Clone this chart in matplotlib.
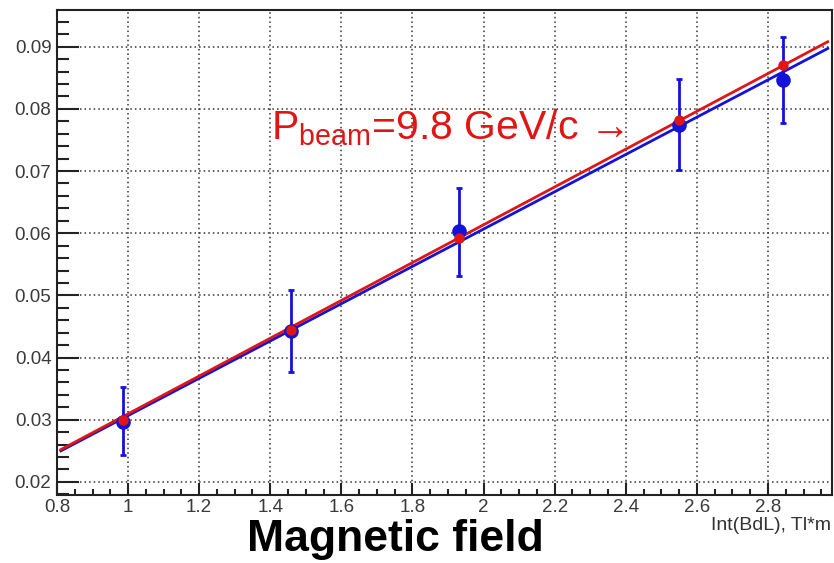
import matplotlib
matplotlib.use("Agg")
import matplotlib.pyplot as plt
import numpy as np
from matplotlib.ticker import MultipleLocator

plt.rcParams['font.family'] = ['Liberation Sans', 'DejaVu Sans']
plt.rcParams['mathtext.fontset'] = 'custom'
plt.rcParams['mathtext.rm'] = 'Liberation Sans'

# data
field = [0.986, 1.458, 1.930, 2.549, 2.842]
meas = [0.0297, 0.0443, 0.0603, 0.0774, 0.0847]
meas_err_lo = [0.0054, 0.0066, 0.0072, 0.0072, 0.0069]
meas_err_hi = [0.0056, 0.0065, 0.0070, 0.0074, 0.0069]
calc = [0.0300, 0.0444, 0.0592, 0.0782, 0.0871]
fit_range = [0.811, 2.968]
fit_calc = [0.03041, 0.00054]   # slope, intercept (red)
fit_meas = [0.03000, 0.00067]   # slope, intercept (blue)

xticks = [0.8, 1.0, 1.2, 1.4, 1.6, 1.8, 2.0, 2.2, 2.4, 2.6, 2.8]
xticklabels = ['0.8', '1', '1.2', '1.4', '1.6', '1.8', '2', '2.2', '2.4', '2.6', '2.8']
yticks = [0.02, 0.03, 0.04, 0.05, 0.06, 0.07, 0.08, 0.09]
yticklabels = ['0.02', '0.03', '0.04', '0.05', '0.06', '0.07', '0.08', '0.09']

BLUE = '#1212d8'
RED = '#e01515'

fig = plt.figure(figsize=(8.34, 5.63), dpi=100)
ax = fig.add_axes([0.0683, 0.1208, 0.9293, 0.8614])
ax.set_xlim(0.8, 2.98)
ax.set_ylim(0.0179, 0.0959)

xf = np.array(fit_range)
ax.plot(xf, fit_meas[0] * xf + fit_meas[1], color=BLUE, lw=2, zorder=3)
ax.plot(xf, fit_calc[0] * xf + fit_calc[1], color=RED, lw=2, zorder=4)

ax.errorbar(field, meas, yerr=[meas_err_lo, meas_err_hi], fmt='o', color=BLUE,
            ms=9.5, elinewidth=2, capsize=2.5, capthick=2, zorder=5)
ax.plot(field, calc, 'o', color=RED, ms=6.5, zorder=6)

ax.set_xticks(xticks)
ax.set_xticklabels(xticklabels)
ax.set_yticks(yticks)
ax.set_yticklabels(yticklabels)
ax.xaxis.set_minor_locator(MultipleLocator(0.05))
ax.yaxis.set_minor_locator(MultipleLocator(0.002))
ax.tick_params(axis='both', which='both', direction='in', colors='#222222',
               labelcolor='#3a3a3a', top=False, right=False)
ax.tick_params(axis='y', which='major', length=16, width=1.5, labelsize=13.5, pad=4)
ax.tick_params(axis='y', which='minor', length=8.5, width=1.5)
ax.tick_params(axis='x', which='major', length=9, width=1.5, labelsize=13.5, pad=3)
ax.tick_params(axis='x', which='minor', length=4.5, width=1.5)
for s in ax.spines.values():
    s.set_linewidth(1.5)
    s.set_color('#222222')

ax.grid(True, which='major', color='#333333', linestyle=(0, (1, 2)), lw=1.1)

ax.text(1.402, 0.0751, r'P$_{\mathrm{beam}}$=9.8 GeV/c →', color=RED, fontsize=29.5,
        ha='left', va='baseline', zorder=7)

fig.text(0.474, 0.005, 'Magnetic field', fontsize=32, fontweight='bold',
         ha='center', va='bottom', color='black')
fig.text(0.997, 0.0586, 'Int(BdL), Tl*m', fontsize=14, ha='right',
         va='baseline', color='#333333')

fig.savefig('out.png', dpi=100)
